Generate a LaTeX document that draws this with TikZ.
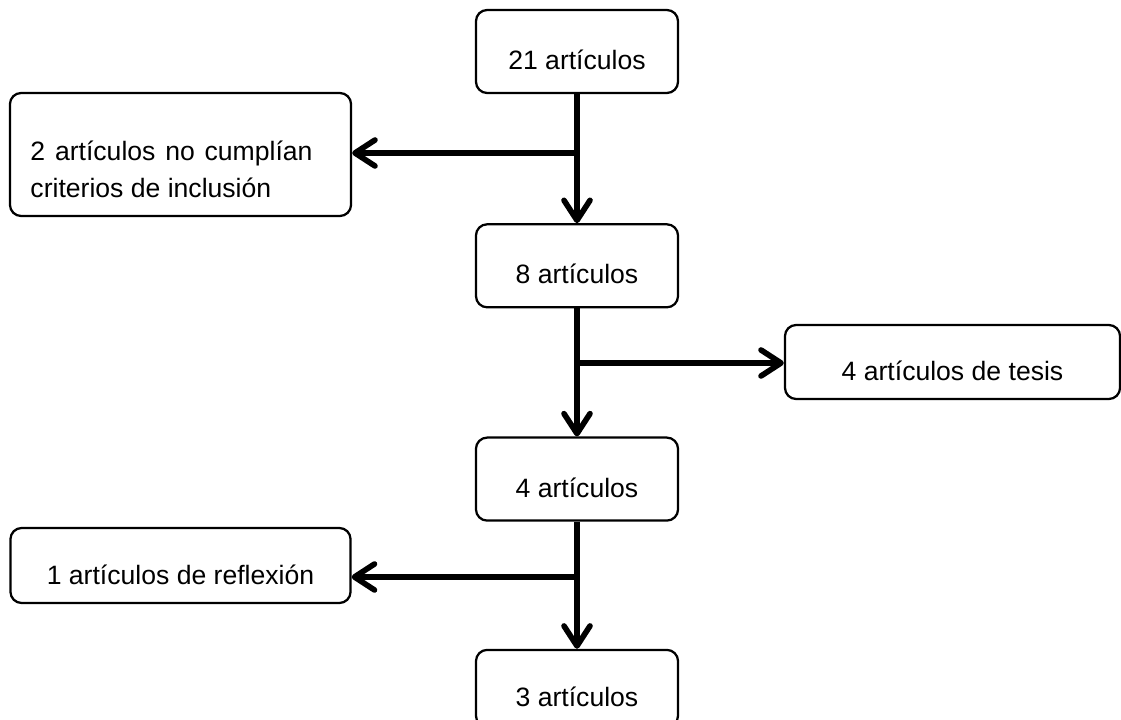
\documentclass[tikz,border=0pt]{standalone}
\usepackage{fontspec}
\setmainfont{Liberation Sans}
\usetikzlibrary{positioning}
\usetikzlibrary{arrows.meta, positioning}
\tikzstyle{box} = [draw, line width=1.6pt, rounded corners=0.28cm, minimum width=5.05cm, minimum height=2.075cm, text height=0.9cm, text depth=0pt, font=\fontsize{18.9}{26}\selectfont]
\tikzstyle{arrow} = [line width=4pt, -{Straight Barb[length=5mm, width=6.5mm, round]}]

\begin{document}
\begin{tikzpicture}[x=0.025cm, y=-0.025cm]
    \useasboundingbox (0,0) rectangle (1121,720);

    % Nodes
    \node[box] (A) at (577,51.5) {21 artículos};
    \node[box, below=3.225cm of A] (C) {8 artículos};
    \node[box, below=3.2cm of C] (E) {4 artículos};
    \node[box, below=3.175cm of E, minimum height=1.925cm] (G) {3 artículos};
    \node[box, minimum width=8.525cm, minimum height=3.075cm, text height=2.125cm] (B) at (180.5,154.5)
        {\parbox[b]{7.5cm}{\makebox[7.05cm][s]{2 artículos no cumplían}\\criterios de inclusión}};
    \node[box, minimum width=8.375cm, minimum height=1.85cm, text height=0.95cm] (D) at (952.5,362) {4 artículos de tesis};
    \node[box, minimum width=8.5cm, minimum height=1.875cm, text height=0.95cm] (F) at (180.5,565.5) {1 artículos de reflexión};

    % Branch points
    \coordinate (AC) at (577,153);
    \coordinate (CE) at (577,363);
    \coordinate (EG) at (577,577);

    % Edges
    \draw[arrow] (A) -- (C);
    \draw[arrow] (C) -- (E);
    \draw[arrow] (E) -- (G);
    \draw[arrow] (AC) -- (AC -| B.east);
    \draw[arrow] (CE) -- (CE -| D.west);
    \draw[arrow] (EG) -- (EG -| F.east);
\end{tikzpicture}
\end{document}
